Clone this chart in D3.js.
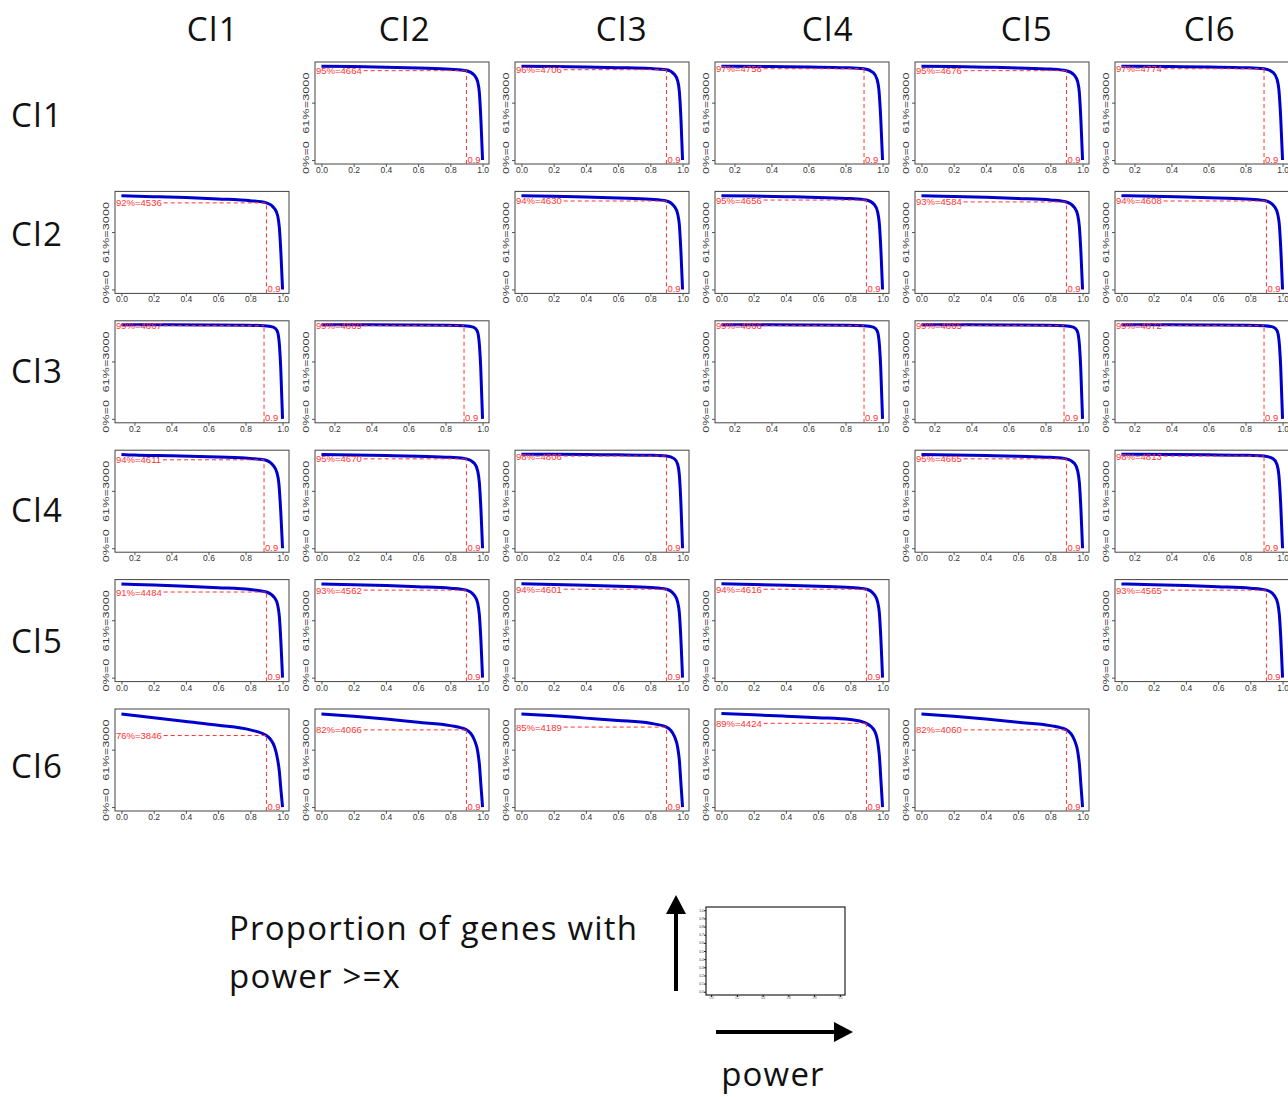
<!DOCTYPE html>
<html>
<head>
<meta charset="utf-8">
<script src="https://cdn.jsdelivr.net/npm/d3@7"></script>
<style>
  body { margin: 0; background: #fff; }
  svg { display: block; }
  .big { font-family: "Open Sans", sans-serif; fill: #111; }
  .tick text { font-family: "Liberation Sans", sans-serif; }
</style>
</head>
<body>
<svg id="chart" width="1288" height="1097"></svg>
<script>
// cluster names, rows and columns
var clusters = ["Cl1", "Cl2", "Cl3", "Cl4", "Cl5", "Cl6"];

// power values where every curve is sampled
var powerGrid = [0, 0.2, 0.4, 0.6, 0.8, 0.9, 0.95, 0.97, 0.98, 0.99, 1.0];

// one entry per panel (row cluster, column cluster)
var panelRow = [0,0,0,0,0, 1,1,1,1,1, 2,2,2,2,2, 3,3,3,3,3, 4,4,4,4,4, 5,5,5,5,5];
var panelCol = [1,2,3,4,5, 0,2,3,4,5, 0,1,3,4,5, 0,1,2,4,5, 0,1,2,3,5, 0,1,2,3,4];
var panelLabel = [
  "95%=4664", "96%=4706", "97%=4758", "95%=4676", "97%=4774",
  "92%=4536", "94%=4630", "95%=4656", "93%=4584", "94%=4608",
  "99%=4867", "99%=4869", "99%=4866", "99%=4865", "99%=4872",
  "94%=4611", "95%=4670", "98%=4806", "95%=4665", "98%=4813",
  "91%=4484", "93%=4562", "94%=4601", "94%=4616", "93%=4565",
  "76%=3846", "82%=4066", "85%=4189", "89%=4424", "82%=4060"
];
var panelPct = [
  95, 96, 97, 95, 97,
  92, 94, 95, 93, 94,
  99, 99, 99, 99, 99,
  94, 95, 98, 95, 98,
  91, 93, 94, 94, 93,
  76, 82, 85, 89, 82
];
// smallest power shown on the x axis of each panel
var panelXMin = [
  0, 0, 0.13, 0, 0.13,
  0, 0, 0, 0, 0,
  0.13, 0.13, 0.13, 0.13, 0.13,
  0.13, 0, 0, 0, 0.13,
  0, 0, 0, 0, 0,
  0, 0, 0, 0, 0
];
// % of genes with power >= x, at each powerGrid value
var panelCurve = [
  [99.8, 99.3, 98.7, 97.8, 96.6, 95, 90, 83, 72, 42, 0],
  [99.8, 99.4, 99.0, 98.2, 97.3, 96, 91, 84, 73, 44, 0],
  [99.8, 99.6, 99.3, 98.8, 98.1, 97, 93, 86, 75, 45, 0],
  [99.8, 99.3, 98.7, 97.9, 96.7, 95, 90, 83, 72, 42, 0],
  [99.8, 99.6, 99.3, 98.8, 98.1, 97, 93, 86, 75, 45, 0],

  [99.6, 98.6, 97.6, 96.2, 94.3, 92, 86, 78, 66, 38, 0],
  [99.7, 99.0, 98.2, 97.2, 95.8, 94, 88, 80, 69, 40, 0],
  [99.7, 99.2, 98.6, 97.8, 96.6, 95, 90, 82, 70, 41, 0],
  [99.6, 98.8, 97.9, 96.7, 95.1, 93, 87, 79, 67, 39, 0],
  [99.7, 99.0, 98.2, 97.2, 95.8, 94, 88, 80, 69, 40, 0],

  [100, 100, 99.9, 99.8, 99.5, 99, 97.5, 94, 85, 55, 0],
  [100, 100, 99.9, 99.8, 99.5, 99, 97.5, 94, 85, 55, 0],
  [100, 100, 99.9, 99.8, 99.5, 99, 97.5, 94, 85, 55, 0],
  [100, 100, 99.9, 99.8, 99.5, 99, 97.5, 94, 85, 55, 0],
  [100, 100, 99.9, 99.8, 99.5, 99, 97.5, 94, 85, 55, 0],

  [99.7, 99.0, 98.2, 97.2, 95.8, 94, 88, 80, 69, 40, 0],
  [99.7, 99.2, 98.6, 97.8, 96.6, 95, 90, 82, 70, 41, 0],
  [100, 99.8, 99.6, 99.3, 98.8, 98, 95, 89, 78, 47, 0],
  [99.7, 99.2, 98.6, 97.8, 96.6, 95, 90, 82, 70, 41, 0],
  [100, 99.8, 99.6, 99.3, 98.8, 98, 95, 89, 78, 47, 0],

  [99.6, 98.4, 97.2, 95.6, 93.6, 91, 85, 77, 65, 37, 0],
  [99.6, 98.8, 97.9, 96.7, 95.1, 93, 87, 79, 67, 39, 0],
  [99.7, 99.0, 98.2, 97.2, 95.8, 94, 88, 80, 69, 40, 0],
  [99.7, 99.0, 98.2, 97.2, 95.8, 94, 88, 80, 69, 40, 0],
  [99.6, 98.8, 97.9, 96.7, 95.1, 93, 87, 79, 67, 39, 0],

  [99, 95, 91, 87, 82, 76, 64, 50, 38, 18, 0],
  [99, 96.5, 93.5, 90, 86.5, 82, 71, 59, 46, 23, 0],
  [99, 97, 94.5, 92, 89, 85, 75, 63, 50, 25, 0],
  [99.5, 98, 96.5, 95, 93, 89, 81, 69, 55, 28, 0],
  [99, 96.5, 93.5, 90, 86.5, 82, 71, 59, 46, 23, 0]
];
// y axis ticks (percent of genes) and their labels
var yTicks = [0, 61];
var yTickLabels = ["0%=0", "61%=3000"];
var xTicks = [0, 0.2, 0.4, 0.6, 0.8, 1.0];
var cutoff = 0.9;

// layout
var boxW = 174, boxH = 102;
var boxLeft0 = 115, colStep = 200;
var boxTop0 = 62, rowStep = 129.4;
var colHeadX = [213, 405, 622, 828, 1027, 1210];
var rowHeadDy = [2, -8, -1, 9, 10, 6];

var svg = d3.select("#chart");

// column headers
svg.selectAll("text.colhead")
  .data(clusters)
  .enter()
  .append("text")
  .attr("class", "big colhead")
  .attr("x", function(d, i) { return colHeadX[i]; })
  .attr("y", 41)
  .attr("text-anchor", "middle")
  .attr("font-size", "33px")
  .attr("letter-spacing", "1.5px")
  .text(function(d) { return d; });

// row headers
svg.selectAll("text.rowhead")
  .data(clusters)
  .enter()
  .append("text")
  .attr("class", "big rowhead")
  .attr("x", 11)
  .attr("y", function(d, i) { return boxTop0 + i * rowStep + boxH / 2 + 12 + rowHeadDy[i]; })
  .attr("font-size", "33px")
  .attr("letter-spacing", "1.5px")
  .text(function(d) { return d; });

var red = "#ff3333";
var blue = "#0000cc";

panelLabel.forEach(function(label, k) {
  var left = boxLeft0 + panelCol[k] * colStep;
  var top = boxTop0 + panelRow[k] * rowStep;
  var xmin = panelXMin[k];
  var xpad = 0.04 * (1 - xmin);

  var x = d3.scaleLinear().domain([xmin - xpad, 1 + xpad]).range([left, left + boxW]);
  var y = d3.scaleLinear().domain([-4.2, 104.2]).range([top + boxH, top]);

  var g = svg.append("g");

  // x axis
  var xa = g.append("g")
    .attr("transform", "translate(0," + (top + boxH) + ")")
    .call(d3.axisBottom(x)
      .tickValues(xTicks.filter(function(t) { return t >= xmin; }))
      .tickFormat(d3.format(".1f"))
      .tickSize(3)
      .tickPadding(0));
  xa.select(".domain").remove();
  xa.selectAll("line").attr("stroke", "#555");
  xa.selectAll("text").attr("font-size", "8.5px").attr("fill", "#333");

  // y axis, rotated labels stretched along their length
  var ya = g.append("g")
    .attr("transform", "translate(" + left + ",0)")
    .call(d3.axisLeft(y)
      .tickValues(yTicks)
      .tickFormat(function(d, i) { return yTickLabels[i]; })
      .tickSize(3)
      .tickPadding(1));
  ya.select(".domain").remove();
  ya.selectAll("line").attr("stroke", "#555");
  ya.selectAll("text")
    .attr("font-size", "8.5px")
    .attr("fill", "#333")
    .attr("text-anchor", "middle")
    .attr("x", null)
    .attr("dy", null)
    .attr("transform", function(d) {
      return "translate(-6," + (d === 0 ? -3 : 0) + ") rotate(-90) scale(1.5,1)";
    });

  // box
  g.append("rect")
    .attr("x", left)
    .attr("y", top)
    .attr("width", boxW)
    .attr("height", boxH)
    .attr("fill", "none")
    .attr("stroke", "#444")
    .attr("stroke-width", 1);

  // blue curve
  var pts = powerGrid.map(function(p, i) {
    return [Math.max(p, xmin), panelCurve[k][i]];
  });
  g.append("path")
    .datum(pts)
    .attr("fill", "none")
    .attr("stroke", blue)
    .attr("stroke-width", 3)
    .attr("d", d3.line()
      .x(function(d) { return x(d[0]); })
      .y(function(d) { return y(d[1]); })
      .curve(d3.curveMonotoneX));

  // red label and cutoff lines
  var lab = g.append("text")
    .attr("x", left + 1)
    .attr("y", y(panelPct[k]) + 3.5)
    .attr("font-family", "Liberation Sans, sans-serif")
    .attr("font-size", "9.5px")
    .attr("fill", red)
    .text(label);
  var labEnd = left + 3 + lab.node().getComputedTextLength();

  g.append("line")
    .attr("x1", labEnd)
    .attr("x2", x(cutoff))
    .attr("y1", y(panelPct[k]))
    .attr("y2", y(panelPct[k]))
    .attr("stroke", red)
    .attr("stroke-width", 1)
    .attr("stroke-dasharray", "4,3");

  g.append("line")
    .attr("x1", x(cutoff))
    .attr("x2", x(cutoff))
    .attr("y1", top + boxH)
    .attr("y2", y(panelPct[k]))
    .attr("stroke", red)
    .attr("stroke-width", 1)
    .attr("stroke-dasharray", "4,3");

  g.append("text")
    .attr("x", x(cutoff) + 1)
    .attr("y", top + boxH - 1.5)
    .attr("font-family", "Liberation Sans, sans-serif")
    .attr("font-size", "9.5px")
    .attr("fill", red)
    .text(cutoff);
});

// legend at the bottom
svg.append("text")
  .attr("class", "big")
  .attr("x", 229)
  .attr("y", 940)
  .attr("font-size", "33px")
  .attr("letter-spacing", "1.2px")
  .text("Proportion of genes with");
svg.append("text")
  .attr("class", "big")
  .attr("x", 229)
  .attr("y", 988)
  .attr("font-size", "33px")
  .attr("letter-spacing", "1.2px")
  .text("power >=x");
svg.append("text")
  .attr("class", "big")
  .attr("x", 773)
  .attr("y", 1086)
  .attr("text-anchor", "middle")
  .attr("font-size", "33px")
  .attr("letter-spacing", "1.2px")
  .text("power");

// arrows
svg.append("line")
  .attr("x1", 676).attr("x2", 676)
  .attr("y1", 991).attr("y2", 912)
  .attr("stroke", "#000").attr("stroke-width", 4);
svg.append("path")
  .attr("d", "M666,914 L676,895 L686,914 Z")
  .attr("fill", "#000");
svg.append("line")
  .attr("x1", 716).attr("x2", 836)
  .attr("y1", 1032).attr("y2", 1032)
  .attr("stroke", "#000").attr("stroke-width", 4);
svg.append("path")
  .attr("d", "M834,1022 L853,1032 L834,1042 Z")
  .attr("fill", "#000");

// little example panel
var lx = d3.scaleLinear().domain([-0.04, 1.04]).range([706, 845]);
var ly = d3.scaleLinear().domain([-0.04, 1.04]).range([995, 907]);
var lxa = svg.append("g")
  .attr("transform", "translate(0,995)")
  .call(d3.axisBottom(lx).tickValues(xTicks).tickFormat(d3.format(".1f")).tickSize(2).tickPadding(0));
lxa.select(".domain").remove();
lxa.selectAll("text").attr("font-size", "3px").attr("fill", "#555");
var lya = svg.append("g")
  .attr("transform", "translate(706,0)")
  .call(d3.axisLeft(ly).ticks(10).tickSize(2).tickPadding(0));
lya.select(".domain").remove();
lya.selectAll("line").attr("stroke", "#222");
lya.selectAll("text").attr("font-size", "3.5px").attr("fill", "#333");
svg.append("rect")
  .attr("x", 706).attr("y", 907)
  .attr("width", 139).attr("height", 88)
  .attr("fill", "none")
  .attr("stroke", "#222")
  .attr("stroke-width", 1.2);
</script>
</body>
</html>
